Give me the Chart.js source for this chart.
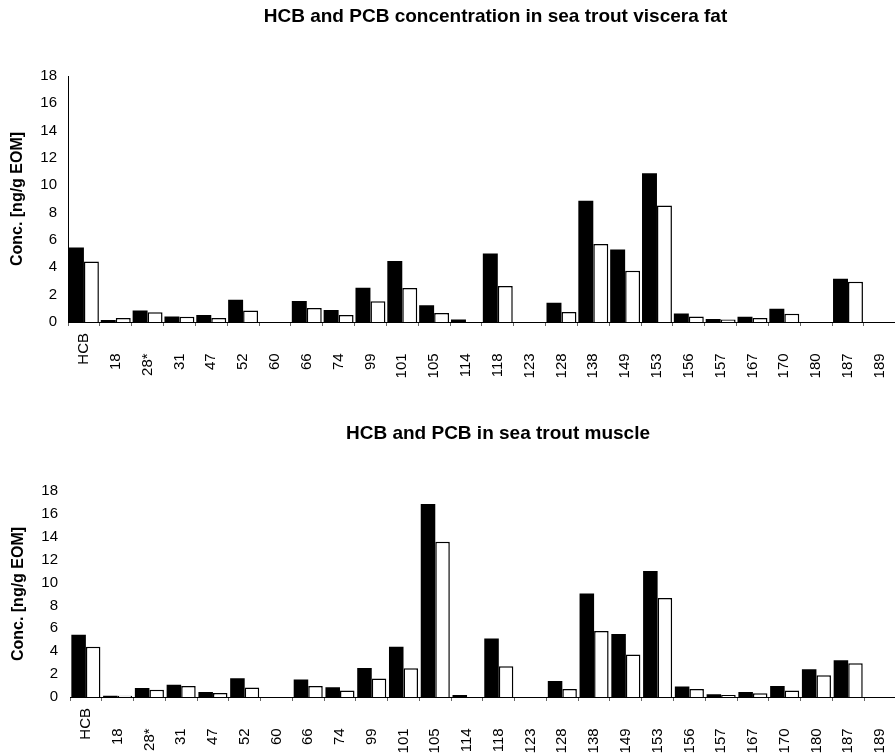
<!DOCTYPE html>
<html><head><meta charset="utf-8">
<script src="https://cdn.jsdelivr.net/npm/chart.js@4.4.1/dist/chart.umd.min.js"></script>
<style>
html,body{margin:0;padding:0;background:#fff;overflow:hidden;width:895px;height:756px;position:relative;}
.title{position:absolute;left:0;text-align:center;font:bold 19px "Liberation Sans",Arial,sans-serif;line-height:22px;color:#000;white-space:nowrap;}
#w1{position:absolute;left:0;top:0;width:905px;height:395px;}
#w2{position:absolute;left:0;top:380px;width:905px;height:376px;}
</style></head><body>
<div id="w1"><canvas id="c1" width="905" height="395" style="width:905px;height:395px"></canvas></div>
<div id="w2"><canvas id="c2" width="905" height="376" style="width:905px;height:376px"></canvas></div>
<div class="title" style="top:5px;width:991px">HCB and PCB concentration in sea trout viscera fat</div>
<div class="title" style="top:422px;width:996px">HCB and PCB in sea trout muscle</div>
<script>
const categories = ['HCB','18','28*','31','47','52','60','66','74','99','101','105','114','118','123','128','138','149','153','156','157','167','170','180','187','189'];
const yTicks = [0,2,4,6,8,10,12,14,16,18];
const visceraBlack = [5.46,0.15,0.85,0.41,0.51,1.63,0,1.53,0.88,2.51,4.46,1.22,0.19,5.02,0,1.41,8.87,5.31,10.89,0.63,0.22,0.39,0.97,0,3.17,0];
const visceraWhite = [4.43,0.29,0.71,0.39,0.29,0.85,0,1.02,0.51,1.51,2.48,0.66,0,2.63,0,0.73,5.70,3.75,8.52,0.41,0.19,0.29,0.61,0,2.95,0];
const muscleBlack = [5.44,0.12,0.79,1.08,0.44,1.64,0,1.52,0.85,2.54,4.39,16.87,0.18,5.12,0,1.40,9.04,5.50,11.02,0.91,0.23,0.44,0.96,2.43,3.22,0];
const muscleWhite = [4.39,0.12,0.64,0.96,0.35,0.82,0,0.96,0.56,1.61,2.51,13.57,0,2.69,0,0.70,5.76,3.71,8.65,0.70,0.18,0.32,0.56,1.90,2.95,0];
const yTitle = 'Conc. [ng/g EOM]';

Chart.defaults.font.family = '"Liberation Sans", Arial, sans-serif';
Chart.defaults.color = '#000';

function makeChart(id, black, white, g) {
  return new Chart(document.getElementById(id), {
    type: 'bar',
    data: {
      labels: categories,
      datasets: [
        {data: black, backgroundColor: '#000', borderColor: '#000', borderWidth: 0,
         barPercentage: 1, categoryPercentage: g.catPct},
        {data: white, backgroundColor: '#fff', borderColor: '#000', borderWidth: 1.5,
         barPercentage: 1, categoryPercentage: g.catPct}
      ]
    },
    options: {
      responsive: false, animation: false,
      layout: {padding: {top: g.padTop, right: g.padRight, left: 0, bottom: 0}},
      plugins: {legend: {display: false}, tooltip: {enabled: false}, title: {display: false}},
      scales: {
        x: {
          grid: {display: true, drawOnChartArea: false, drawTicks: true, tickLength: 4, color: '#666', offset: true},
          border: {display: true, color: '#000', width: 1},
          ticks: {
            autoSkip: false, minRotation: 90, maxRotation: 90, padding: 7,
            font: {size: 15},
            callback: (v, i) => categories[i] === 'HCB' ? categories[i] : categories[i] + '\u2007\u2007\u2005'
          },
          afterFit: s => { s.height = g.canvasH - g.chartBottom; }
        },
        y: {
          min: 0, max: 18,
          afterBuildTicks: s => { s.ticks = yTicks.map(v => ({value: v})); },
          grid: {display: false, drawTicks: false},
          border: {display: g.yBorder, color: '#000', width: 1},
          ticks: {padding: g.yPad, font: {size: 15}},
          title: {display: true, text: yTitle, font: {size: 16, weight: 'bold'}, padding: {top: g.yTitlePad, bottom: 0}},
          afterFit: s => { s.width = g.axisLeft; }
        }
      }
    }
  });
}

makeChart('c1', visceraBlack, visceraWhite,
  {padTop: 76, padRight: 9, axisLeft: 68, chartBottom: 322, canvasH: 395, catPct: 0.94, yPad: 11, yBorder: true, yTitlePad: 8});
makeChart('c2', muscleBlack, muscleWhite,
  {padTop: 111, padRight: 2, axisLeft: 70, chartBottom: 317, canvasH: 376, catPct: 0.915, yPad: 12, yBorder: false, yTitlePad: 9});
</script>
</body></html>
